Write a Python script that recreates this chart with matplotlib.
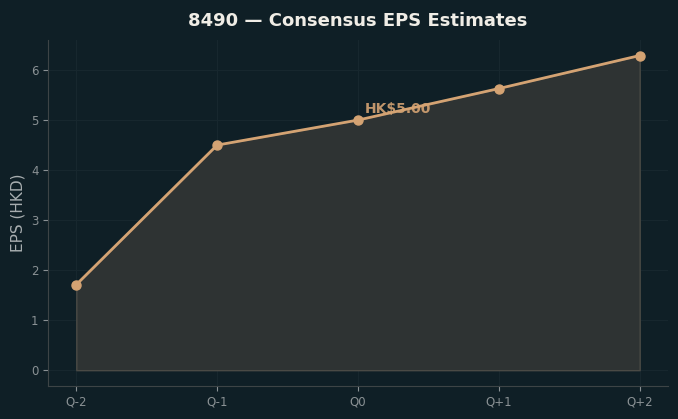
import numpy as np
import matplotlib.pyplot as plt

quarters = ["Q-2", "Q-1", "Q0", "Q+1", "Q+2"]
eps = [1.71, 4.50, 5.00, 5.63, 6.29]
current_idx = 2

bg = "#0f1f26"
line_col = "#d4a373"

fig, ax = plt.subplots(figsize=(6.78, 4.19), dpi=100)
fig.patch.set_facecolor(bg)
ax.set_facecolor(bg)

x = np.arange(len(quarters))
ax.fill_between(x, eps, 0, color="#2e3333", edgecolor="#4a4a45", linewidth=1)
ax.plot(x, eps, color=line_col, linewidth=2, marker="o", markersize=6.5)

ax.annotate(f"HK${eps[current_idx]:.2f}", (x[current_idx], eps[current_idx]),
            xytext=(5, 5), textcoords="offset points",
            color=line_col, fontsize=10, fontweight="bold", alpha=0.9)

ax.set_xticks(x)
ax.set_xticklabels(quarters)
ax.set_ylabel("EPS (HKD)", color="#a8aeb0", fontsize=11)
ax.set_title("8490 — Consensus EPS Estimates", color="#f0ede6",
             fontsize=13, fontweight="bold", pad=10)

ax.tick_params(colors="#8a9194", labelsize=8.5)
for s in ["top", "right"]:
    ax.spines[s].set_visible(False)
for s in ["left", "bottom"]:
    ax.spines[s].set_color("#3d4446")
ax.grid(True, color="#17272e", linewidth=0.8)
ax.set_axisbelow(True)

fig.subplots_adjust(left=0.071, right=0.985, top=0.905, bottom=0.079)
fig.savefig("out.png", facecolor=bg)
